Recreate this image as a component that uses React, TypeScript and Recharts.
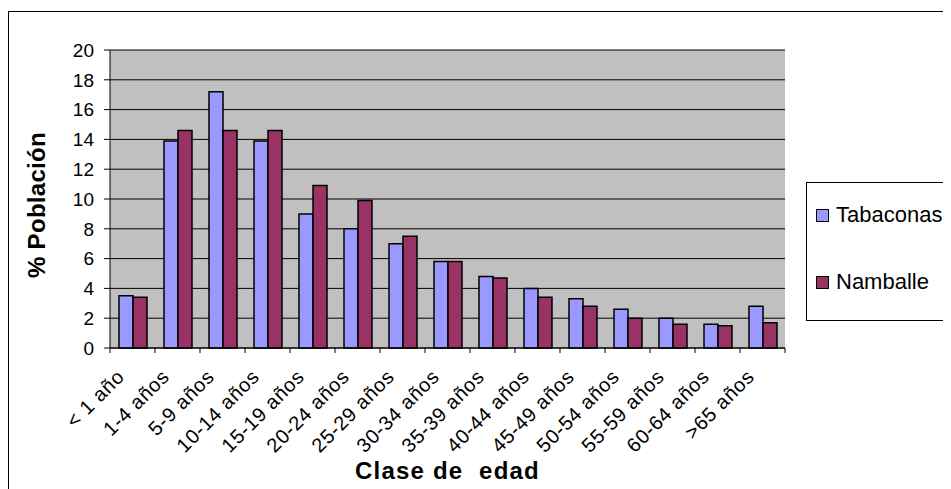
import { BarChart, Bar, XAxis, YAxis, CartesianGrid, Label } from "recharts";

const categories = [
  "< 1 año",
  "1-4 años",
  "5-9 años",
  "10-14 años",
  "15-19 años",
  "20-24 años",
  "25-29 años",
  "30-34 años",
  "35-39 años",
  "40-44 años",
  "45-49 años",
  "50-54 años",
  "55-59 años",
  "60-64 años",
  ">65 años",
];

const seriesNames = ["Tabaconas", "Namballe"];
const tabaconas = [3.5, 13.9, 17.2, 13.9, 9.0, 8.0, 7.0, 5.8, 4.8, 4.0, 3.3, 2.6, 2.0, 1.6, 2.8];
const namballe = [3.4, 14.6, 14.6, 14.6, 10.9, 9.9, 7.5, 5.8, 4.7, 3.4, 2.8, 2.0, 1.6, 1.5, 1.7];
const yTicks = [0, 2, 4, 6, 8, 10, 12, 14, 16, 18, 20];

const colors = ["#9999FF", "#993366"];
const font = "Arial, 'Liberation Sans', sans-serif";

const data = categories.map((name, i) => ({
  name,
  [seriesNames[0]]: tabaconas[i],
  [seriesNames[1]]: namballe[i],
}));

// Excel style: tick marks sit between categories, labels rotated -45deg
function AgeTick(props: any) {
  const { x, y, payload, index, visibleTicksCount, width } = props;
  const half = payload?.offset ?? width / visibleTicksCount / 2;
  const tx = x - 7;
  const ty = y + 30;
  return (
    <g>
      <line x1={x - half} y1={y} x2={x - half} y2={y + 5} stroke="#000" />
      {index === visibleTicksCount - 1 && (
        <line x1={x + half} y1={y} x2={x + half} y2={y + 5} stroke="#000" />
      )}
      <text
        x={tx}
        y={ty}
        textAnchor="end"
        transform={`rotate(-45, ${tx}, ${ty})`}
        fontSize={20}
        letterSpacing={0.7}
        fontFamily={font}
        fill="#000"
      >
        {payload.value}
      </text>
    </g>
  );
}

const titleStyle = {
  fontSize: 24,
  fontWeight: "bold" as const,
  fontFamily: font,
  fill: "#000",
};

function XTitle(props: any) {
  const vb = props.viewBox;
  const cx = vb.x + vb.width / 2;
  return (
    <text
      x={cx}
      y={vb.y + vb.height}
      textAnchor="middle"
      xmlSpace="preserve"
      letterSpacing={1.2}
      style={titleStyle}
    >
      {props.value}
    </text>
  );
}

function YTitle(props: any) {
  const vb = props.viewBox;
  const cx = vb.x + 18;
  const cy = vb.y + vb.height / 2 + 6;
  return (
    <text
      x={cx}
      y={cy}
      textAnchor="middle"
      dominantBaseline="central"
      transform={`rotate(-90, ${cx}, ${cy})`}
      letterSpacing={0.3}
      style={titleStyle}
    >
      {props.value}
    </text>
  );
}

export default function App() {
  return (
    <div
      style={{
        position: "relative",
        width: 943,
        height: 481,
        overflow: "hidden",
        fontFamily: font,
      }}
    >
      <div
        style={{
          position: "absolute",
          left: 0,
          top: 3,
          width: 2000,
          height: 2000,
          border: "1px solid #000",
        }}
      />
      <div style={{ position: "absolute", left: 0, top: 0 }}>
        <BarChart
          width={943}
          height={481}
          data={data}
          margin={{ top: 42, right: 166, bottom: 10, left: 10 }}
          barCategoryGap="20%"
          barGap={0}
        >
          <CartesianGrid vertical={false} stroke="#000" fill="#C0C0C0" fillOpacity={1} />
          <XAxis
            dataKey="name"
            interval={0}
            height={131}
            tickLine={false}
            tickSize={0}
            tickMargin={0}
            axisLine={{ stroke: "#000" }}
            tick={<AgeTick />}
          >
            <Label value="Clase de  edad" position="insideBottom" content={<XTitle />} />
          </XAxis>
          <YAxis
            width={92}
            domain={[0, 20]}
            ticks={yTicks}
            interval={0}
            tickSize={6}
            tickMargin={10}
            axisLine={{ stroke: "#000" }}
            tickLine={{ stroke: "#000" }}
            tick={{ fontSize: 19, fill: "#000", fontFamily: font }}
          >
            <Label value="% Población" position="insideLeft" content={<YTitle />} />
          </YAxis>
          <YAxis
            yAxisId="frame"
            orientation="right"
            width={0}
            tick={false}
            tickLine={false}
            axisLine={{ stroke: "#808080" }}
          />
          {seriesNames.map((s, i) => (
            <Bar
              key={s}
              dataKey={s}
              fill={colors[i]}
              stroke="#000"
              strokeWidth={1.5}
              isAnimationActive={false}
            />
          ))}
        </BarChart>
      </div>
      <div
        style={{
          position: "absolute",
          left: 798,
          top: 174,
          width: 300,
          height: 137,
          border: "1px solid #000",
          background: "#fff",
        }}
      >
        {seriesNames.map((s, i) => (
          <div
            key={s}
            style={{
              position: "absolute",
              left: 9,
              top: 21 + i * 67,
              height: 22,
              display: "flex",
              alignItems: "center",
              fontSize: 22,
              color: "#000",
            }}
          >
            <span
              style={{
                display: "inline-block",
                width: 11,
                height: 11,
                background: colors[i],
                border: "1.5px solid #000",
                marginRight: 7,
              }}
            />
            {s}
          </div>
        ))}
      </div>
    </div>
  );
}
